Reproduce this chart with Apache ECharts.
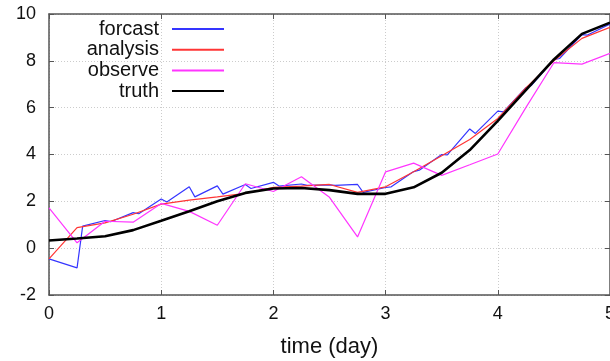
<!DOCTYPE html>
<html>
<head>
<meta charset="utf-8">
<script src="https://cdn.jsdelivr.net/npm/echarts@6/dist/echarts.min.js"></script>
<style>
  html, body { margin: 0; padding: 0; background: #fff; }
  #chart { width: 610px; height: 361px; }
</style>
</head>
<body>
<div id="chart"></div>
<script>
// analysis times (day)
const days = [0, 0.25, 0.5, 0.75, 1, 1.25, 1.5, 1.75, 2, 2.25, 2.5, 2.75, 3, 3.25, 3.5, 3.75, 4, 4.25, 4.5, 4.75, 5]

const truth    = [0.33, 0.41, 0.51, 0.77, 1.17, 1.58, 2.0, 2.36, 2.55, 2.57, 2.48, 2.32, 2.32, 2.6, 3.22, 4.19, 5.44, 6.75, 8.06, 9.15, 9.63]
const analysis = [-0.46, 0.88, 1.08, 1.45, 1.88, 2.05, 2.19, 2.34, 2.6, 2.65, 2.72, 2.38, 2.62, 3.26, 3.95, 4.64, 5.54, 6.84, 8.0, 8.96, 9.43]
const observe  = [1.72, 0.23, 1.15, 1.11, 1.91, 1.57, 0.98, 2.75, 2.42, 3.05, 2.17, 0.48, 3.26, 3.63, 3.11, 3.56, 4.02, 6.0, 7.92, 7.86, 8.32]

// forecast restarts shortly after each analysis
const forecastDays = [0, 0.25, 0.3, 0.5, 0.55, 0.75, 0.8, 1, 1.05, 1.25, 1.3, 1.5, 1.55, 1.75, 1.8, 2, 2.05, 2.25, 2.3, 2.5, 2.55,
                      2.75, 2.8, 3, 3.05, 3.25, 3.3, 3.5, 3.55, 3.75, 3.8, 4, 4.05, 4.25, 4.3, 4.5, 4.55, 4.75, 4.8, 5]
const forecast     = [-0.46, -0.84, 0.94, 1.18, 1.13, 1.52, 1.47, 2.1, 1.97, 2.62, 2.19, 2.66, 2.31, 2.72, 2.55, 2.81, 2.65, 2.74, 2.68, 2.7, 2.68,
                      2.72, 2.38, 2.59, 2.62, 3.27, 3.33, 4.0, 3.98, 5.09, 4.9, 5.85, 5.82, 6.85, 6.95, 8.05, 8.1, 9.12, 9.1, 9.57]

const xTicks = [0, 1, 2, 3, 4, 5]
const yTicks = [-2, 0, 2, 4, 6, 8, 10]

const font = 'Liberation Sans, Arial, sans-serif'
const axisColor = '#555'

const pairs = (xs, ys) => xs.map((x, i) => [x, ys[i]])

const baseX = {
  type: 'value',
  min: xTicks[0],
  max: xTicks[xTicks.length - 1],
  interval: 1,
  axisLine: { show: true, onZero: false, lineStyle: { color: axisColor, width: 1.5 } },
  axisTick: { show: true, inside: true, length: 5, lineStyle: { color: axisColor } },
}
const baseY = {
  type: 'value',
  min: yTicks[0],
  max: yTicks[yTicks.length - 1],
  interval: 2,
  axisLine: { show: true, onZero: false, lineStyle: { color: axisColor, width: 1.5 } },
  axisTick: { show: true, inside: true, length: 5, lineStyle: { color: axisColor } },
}

const chart = echarts.init(document.getElementById('chart'), null, { renderer: 'canvas' })

chart.setOption({
  animation: false,
  textStyle: { fontFamily: font },
  grid: { left: 49, right: 0, top: 14, bottom: 66, containLabel: false, outerBoundsMode: 'none' },
  legend: {
    orient: 'vertical',
    align: 'right',
    right: 386,
    top: 19,
    padding: 0,
    itemGap: 0.7,
    itemWidth: 52,
    itemHeight: 2,
    icon: 'rect',
    textStyle: { fontFamily: font, fontSize: 20, color: '#111', lineHeight: 20, padding: [0, 8, 0, 0] },
    data: ['forcast', 'analysis', 'observe', 'truth'],
  },
  xAxis: [{
    ...baseX,
    position: 'bottom',
    name: 'time (day)',
    nameLocation: 'middle',
    nameGap: 41,
    nameTextStyle: { fontFamily: font, fontSize: 22, color: '#111' },
    axisLabel: { fontFamily: font, fontSize: 18, color: '#111', margin: 10 },
    splitLine: { show: true, lineStyle: { color: '#ccc', type: [1, 2], width: 1 } },
  }, {
    ...baseX,
    position: 'top',
    axisLabel: { show: false },
    splitLine: { show: false },
  }],
  yAxis: [{
    ...baseY,
    position: 'left',
    axisLabel: { fontFamily: font, fontSize: 18, color: '#111', margin: 13 },
    splitLine: { show: true, lineStyle: { color: '#ccc', type: [1, 2], width: 1 } },
  }, {
    ...baseY,
    position: 'right',
    axisLabel: { show: false },
    splitLine: { show: false },
  }],
  series: [{
    name: 'forcast',
    type: 'line',
    symbol: 'none',
    color: '#3535ff',
    lineStyle: { width: 1.2, color: '#3535ff' },
    data: pairs(forecastDays, forecast),
  }, {
    name: 'analysis',
    type: 'line',
    symbol: 'none',
    color: '#ff3535',
    lineStyle: { width: 1.2, color: '#ff3535' },
    data: pairs(days, analysis),
  }, {
    name: 'observe',
    type: 'line',
    symbol: 'none',
    color: '#ff35ff',
    lineStyle: { width: 1.2, color: '#ff35ff' },
    data: pairs(days, observe),
  }, {
    name: 'truth',
    type: 'line',
    symbol: 'none',
    color: '#000',
    lineStyle: { width: 2.6, color: '#000' },
    data: pairs(days, truth),
  }],
})
</script>
</body>
</html>
